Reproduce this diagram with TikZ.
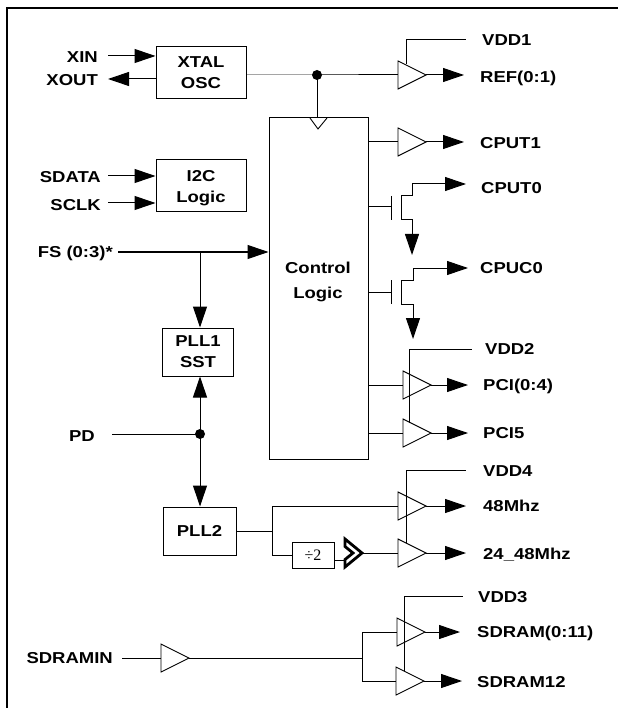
\documentclass[tikz,border=0pt]{standalone}
\usepackage{fontspec}
\newfontfamily\labfont{Liberation Sans}[FakeStretch=1.17]
\newfontfamily\serfont{Liberation Serif}
\usetikzlibrary{arrows.meta}
\begin{document}
\begin{tikzpicture}[x=1pt,y=-1pt,
  wire/.style={line width=1pt},
  arr/.style={wire,-{Triangle[length=21pt,width=14pt]}},
  rarr/.style={wire,{Triangle[length=21pt,width=14pt]}-},
  lab/.style={font=\labfont\bfseries\fontsize{15.8}{21}\selectfont, inner sep=0pt, text height=11.3pt, text depth=0pt},
  blk/.style={draw, line width=1pt, inner sep=0pt, align=center, font=\labfont\bfseries\fontsize{15.8}{21}\selectfont, text depth=0pt},
  buffer/.pic={\draw[line width=0.9pt] (0,-14) -- (28,0) -- (0,14) -- cycle;
     \coordinate (-in) at (0,0); \coordinate (-out) at (28,0);}]
\useasboundingbox (0,0) rectangle (618,708);
% frame
\draw[line width=2pt] (7,708) -- (7,8) -- (618,8);

% blocks
\node[blk, minimum width=90pt, minimum height=52pt] (xtal) at (201,73) {XTAL\\OSC};
\node[blk, minimum width=90pt, minimum height=52pt] (i2c) at (201,186) {I2C\\Logic};
\node[draw, line width=1pt, minimum width=99pt, minimum height=341pt, inner sep=0pt] (ctl) at (318.5,288.5) {};
\node[inner sep=0pt, align=center, text depth=0pt, font=\labfont\bfseries\fontsize{15.8}{25}\selectfont] (ctltxt) at (318,280.5) {Control\\Logic};
\node[blk, minimum width=71pt, minimum height=48pt] (pll1) at (198,352) {PLL1\\SST};
\node[blk, minimum width=73pt, minimum height=48pt] (pll2) at (199.5,531) {PLL2};
\node[draw, line width=0.9pt, minimum width=42pt, minimum height=26pt, inner sep=0pt, font=\serfont\fontsize{16}{18}\selectfont] (div) at (313,555) {÷2};

% left labels
\node[lab, anchor=east] (xin) at (98,57) {XIN};
\node[lab, anchor=east] (xout) at (98,80) {XOUT};
\node[lab, anchor=east] (sdata) at (101,177) {SDATA};
\node[lab, anchor=east] (sclk) at (101,205) {SCLK};
\node[lab, anchor=east] (fs) at (113,252) {FS (0:3)*};
\node[lab, anchor=east] (pd) at (95,436) {PD};
\node[lab, anchor=east] (sdin) at (113,658) {SDRAMIN};

% right labels
\node[lab, anchor=west] (vdd1) at (482,40) {VDD1};
\node[lab, anchor=west] (ref) at (480,77) {REF(0:1)};
\node[lab, anchor=west] (cput1) at (480,143) {CPUT1};
\node[lab, anchor=west] (cput0) at (481,188) {CPUT0};
\node[lab, anchor=west] (cpuc0) at (480,268) {CPUC0};
\node[lab, anchor=west] (vdd2) at (485,349) {VDD2};
\node[lab, anchor=west] (pci04) at (483,385) {PCI(0:4)};
\node[lab, anchor=west] (pci5) at (483,433) {PCI5};
\node[lab, anchor=west] (vdd4) at (483,471) {VDD4};
\node[lab, anchor=west] (m48) at (483,506) {48Mhz};
\node[lab, anchor=west] (m24) at (483,554) {24\_48Mhz};
\node[lab, anchor=west] (vdd3) at (478,597) {VDD3};
\node[lab, anchor=west] (sd011) at (477,632) {SDRAM(0:11)};
\node[lab, anchor=west] (sd12) at (477,682) {SDRAM12};

% input arrows
\coordinate (xins) at (108,56);
\coordinate (xoute) at (108,79);
\coordinate (sdatas) at (108,176);
\coordinate (sclks) at (108,203);
\draw[arr] (xins) -- (xins -| xtal.west);
\draw[rarr] (xoute) -- (xoute -| xtal.west);
\draw[arr] (sdatas) -- (sdatas -| i2c.west);
\draw[arr] (sclks) -- (sclks -| i2c.west);

% buffers
\pic (bref) at (398,75) {buffer};
\pic (bc1) at (398,142) {buffer};
\pic (bp04) at (403,385) {buffer};
\pic (bp5) at (403,433) {buffer};
\pic (b48) at (398,506) {buffer};
\pic (b24) at (398,553) {buffer};
\pic (bsin) at (161,658) {buffer};
\pic (bs011) at (397,632) {buffer};
\pic (bs12) at (396,681) {buffer};

% XTAL to REF and control
\coordinate (j1) at (317,75);
\draw[wire] (xtal.east |- j1) -- (j1) -- (bref-in);
\draw[wire] (j1) -- (j1 |- ctl.north);
\fill (j1) circle[radius=5pt];
\draw[line width=0.9pt] (310,118) -- (318,129) -- (327,118);

% VDD1
\coordinate (v1a) at (406,64);
\coordinate (v1b) at (466,40);
\draw[wire] (v1a) -- (v1a |- v1b) -- (v1b);
\coordinate (refe) at (464,75);
\draw[arr] (bref-out) -- (refe);

% CPUT1
\draw[wire] (ctl.east |- bc1-in) -- (bc1-in);
\coordinate (c1e) at (464,142);
\draw[arr] (bc1-out) -- (c1e);

% CPUT0 transistor
\coordinate (t0g) at (391,207);
\draw[wire] (ctl.east |- t0g) -- (t0g);
\draw[wire] (391,196) -- (391,220);
\draw[wire] (401,196) -- (401,220);
\coordinate (t0e) at (466,184);
\coordinate (t0d) at (412,255);
\draw[arr] (401,196) -- (412,196) -- (412,184) -- (t0e);
\draw[arr] (401,220) -- (412,220) -- (t0d);

% CPUC0 transistor
\coordinate (t1g) at (391,292);
\draw[wire] (ctl.east |- t1g) -- (t1g);
\draw[wire] (391,280) -- (391,304);
\draw[wire] (401,280) -- (401,304);
\coordinate (t1e) at (468,268);
\coordinate (t1d) at (413,339);
\draw[arr] (401,280) -- (413,280) -- (413,268) -- (t1e);
\draw[arr] (401,304) -- (413,304) -- (t1d);

% VDD2 and PCI
\coordinate (v2a) at (409,423);
\coordinate (v2b) at (472,349);
\draw[wire] (v2a) -- (v2a |- v2b) -- (v2b);
\draw[wire] (ctl.east |- bp04-in) -- (bp04-in);
\draw[wire] (ctl.east |- bp5-in) -- (bp5-in);
\coordinate (p04e) at (468,385);
\coordinate (p5e) at (468,433);
\draw[arr] (bp04-out) -- (p04e);
\draw[arr] (bp5-out) -- (p5e);

% FS
\coordinate (fss) at (118,252);
\coordinate (fsj) at (200,252);
\draw[arr] (fss) -- (fss -| ctl.west);
\draw[arr] (fsj) -- (fsj |- pll1.north);

% PD
\coordinate (pds) at (112,434);
\coordinate (j2) at (200,434);
\draw[wire] (pds) -- (j2);
\draw[arr] (j2) -- (j2 |- pll1.south);
\draw[arr] (j2) -- (j2 |- pll2.north);
\fill (j2) circle[radius=5pt];

% PLL2 outputs
\coordinate (pj) at (272,531);
\draw[wire] (pll2.east |- pj) -- (pj);
\draw[wire] (272,506) -- (272,555);
\draw[wire] (272,506) -- (b48-in);
\draw[wire] (272,555) -- (div.west |- 0,555);
\coordinate (chin) at (345,560);
\coordinate (chout) at (363,553);
\draw[wire] (div.east |- chin) -- (chin);
\draw[line width=2.8pt, line join=miter] (345,539) -- (362,553) -- (345,567) -- (345,559.5) -- (353,553) -- (345,546.5) -- cycle;
\draw[wire] (chout) -- (b24-in);

% VDD4 and 48Mhz
\coordinate (v4a) at (406,543);
\coordinate (v4b) at (466,470);
\draw[wire] (v4a) -- (v4a |- v4b) -- (v4b);
\coordinate (m48e) at (466,506);
\coordinate (m24e) at (466,553);
\draw[arr] (b48-out) -- (m48e);
\draw[arr] (b24-out) -- (m24e);

% SDRAM
\coordinate (sds) at (122,658);
\draw[wire] (sds) -- (bsin-in);
\coordinate (sj) at (362,658);
\draw[wire] (bsin-out) -- (sj);
\draw[wire] (362,632) -- (362,681);
\draw[wire] (362,632) -- (bs011-in);
\draw[wire] (362,681) -- (bs12-in);
\coordinate (v3a) at (404,671);
\coordinate (v3b) at (463,596);
\draw[wire] (v3a) -- (v3a |- v3b) -- (v3b);
\coordinate (s011e) at (460,632);
\coordinate (s12e) at (462,681);
\draw[arr] (bs011-out) -- (s011e);
\draw[arr] (bs12-out) -- (s12e);
\end{tikzpicture}
\end{document}
